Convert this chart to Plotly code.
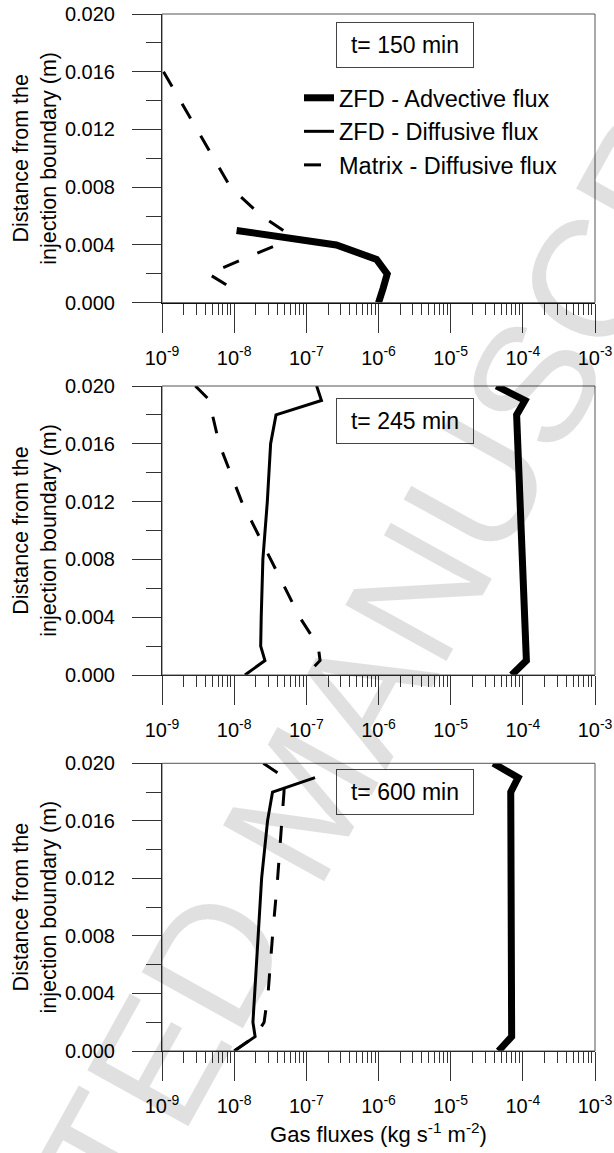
import plotly.graph_objects as go

# ---------------- data ----------------
X_TICKVALS = [1e-9, 1e-8, 1e-7, 1e-6, 1e-5, 1e-4, 1e-3]
X_TICKTEXT = ["10<sup>-9</sup>", "10<sup>-8</sup>", "10<sup>-7</sup>", "10<sup>-6</sup>",
              "10<sup>-5</sup>", "10<sup>-4</sup>", "10<sup>-3</sup>"]
Y_TICKVALS = [0.000, 0.004, 0.008, 0.012, 0.016, 0.020]
TIME_LABELS = ["t= 150 min", "t= 245 min", "t= 600 min"]
SERIES_NAMES = ["ZFD - Advective flux", "ZFD - Diffusive flux", "Matrix - Diffusive flux"]

# t = 150 min
adv150_x = [1.08e-8, 2.6e-7, 9.4e-7, 1.32e-6, 1.16e-6, 1.0e-6]
adv150_y = [0.005, 0.004, 0.003, 0.002, 0.001, 0.000]
mat150_x = [1.05e-9, 8.9e-9, 2.4e-8, 4.8e-8, 3.9e-8, 4.4e-9, 9.3e-9]
mat150_y = [0.016, 0.008, 0.006, 0.005, 0.004, 0.002, 0.001]

# t = 245 min
adv245_x = [4.3e-5, 1.07e-4, 8.2e-5, 1.12e-4, 7.0e-5]
adv245_y = [0.020, 0.019, 0.018, 0.001, 0.000]
dif245_x = [1.39e-7, 1.62e-7, 3.8e-8, 3.2e-8, 2.88e-8, 2.5e-8, 2.37e-8, 2.33e-8, 2.67e-8, 1.41e-8]
dif245_y = [0.020, 0.019, 0.018, 0.016, 0.012, 0.008, 0.004, 0.002, 0.001, 0.000]
mat245_x = [2.9e-9, 4.6e-9, 5.0e-9, 6.2e-9, 1.27e-8, 3.17e-8, 8.1e-8, 1.46e-7, 1.55e-7, 1.0e-7]
mat245_y = [0.020, 0.019, 0.018, 0.016, 0.012, 0.008, 0.004, 0.002, 0.001, 0.000]

# t = 600 min
adv600_x = [3.9e-5, 8.6e-5, 6.8e-5, 7.0e-5, 4.6e-5]
adv600_y = [0.020, 0.019, 0.018, 0.001, 0.000]
dif600_x = [1.32e-7, 3.4e-8, 2.9e-8, 2.4e-8, 2.15e-8, 1.95e-8, 1.82e-8, 1.95e-8, 1.0e-8]
dif600_y = [0.019, 0.018, 0.016, 0.012, 0.008, 0.004, 0.002, 0.001, 0.000]
mat600_x = [2.54e-8, 5.0e-8, 4.9e-8, 4.6e-8, 4.0e-8, 3.4e-8, 2.95e-8, 2.6e-8, 1.95e-8, 1.0e-8]
mat600_y = [0.020, 0.019, 0.018, 0.016, 0.012, 0.008, 0.004, 0.002, 0.001, 0.000]

# ---------------- figure ----------------
FONT = "Liberation Sans, Arial, sans-serif"
W, H = 614, 1153
ML, MR = 162, 19
PLOT_W = W - ML - MR

# panel pixel extents (top, bottom)
panel_px = [(14, 302.7), (386, 675), (763.3, 1051)]
domains = [[1 - b / H, 1 - t / H] for (t, b) in panel_px]

panels = [
    dict(adv=(adv150_x, adv150_y), dif=None, mat=(mat150_x, mat150_y)),
    dict(adv=(adv245_x, adv245_y), dif=(dif245_x, dif245_y), mat=(mat245_x, mat245_y)),
    dict(adv=(adv600_x, adv600_y), dif=(dif600_x, dif600_y), mat=(mat600_x, mat600_y)),
]

styles = {
    "adv": dict(color="black", width=7),
    "dif": dict(color="black", width=3),
    "mat": dict(color="black", width=3, dash="17px,20px"),
}
names = {"adv": SERIES_NAMES[0], "dif": SERIES_NAMES[1], "mat": SERIES_NAMES[2]}

fig = go.Figure()
for i, p in enumerate(panels):
    sfx = "" if i == 0 else str(i + 1)
    for key in ["adv", "dif", "mat"]:
        if p[key] is None:
            continue
        xs, ys = p[key]
        fig.add_trace(go.Scatter(
            x=xs, y=ys, mode="lines", line=styles[key], name=names[key],
            showlegend=(i == 1), legendgroup=key, cliponaxis=False,
            xaxis="x" + sfx, yaxis="y" + sfx, hoverinfo="skip"))

layout = dict(
    width=W, height=H,
    margin=dict(l=ML, r=MR, t=0, b=0, autoexpand=False),
    paper_bgcolor="white", plot_bgcolor="white",
    font=dict(family=FONT, color="black"),
    showlegend=True,
    legend=dict(x=(299 - ML) / PLOT_W, y=1 - 76 / H, xanchor="left", yanchor="top",
                font=dict(size=23.5, family=FONT), bgcolor="rgba(0,0,0,0)",
                tracegroupgap=0, itemwidth=30),
)

for i in range(3):
    sfx = "" if i == 0 else str(i + 1)
    xa = dict(
        type="log", range=[-9, -3], domain=[0, 1], anchor="y" + sfx,
        tickvals=X_TICKVALS, ticktext=X_TICKTEXT, automargin=False,
        ticks="outside", ticklen=29, tickwidth=1, tickcolor="#333",
        showline=True, linecolor="black", linewidth=1,
        showgrid=False, zeroline=False,
        tickfont=dict(size=20, family=FONT), ticklabelstandoff=8,
        minor=dict(ticks="outside", ticklen=11, tickwidth=1, tickcolor="#333",
                   dtick="D1", showgrid=False),
    )
    if i == 2:
        xa["title"] = dict(text="Gas fluxes (kg s<sup>-1</sup> m<sup>-2</sup>)",
                           font=dict(size=22, family=FONT), standoff=10)
    ya = dict(
        range=[0, 0.02], domain=domains[i], anchor="x" + sfx, automargin=False,
        tickvals=Y_TICKVALS, tickformat=".3f",
        ticks="outside", ticklen=29, tickwidth=1, tickcolor="#333",
        showline=True, linecolor="black", linewidth=1,
        showgrid=False, zeroline=False,
        tickfont=dict(size=20, family=FONT), ticklabelstandoff=13,
        minor=dict(ticks="outside", ticklen=15, tickwidth=1, tickcolor="#333",
                   dtick=0.002, tick0=0, showgrid=False),
        title=dict(text="Distance from the<br>injection boundary (m)",
                   font=dict(size=21.5, family=FONT), standoff=2),
    )
    layout["xaxis" + sfx] = xa
    layout["yaxis" + sfx] = ya

fig.update_layout(**layout)

# frame (top / right borders)
for i in range(3):
    sfx = "" if i == 0 else str(i + 1)
    fig.add_shape(type="rect", xref="x" + sfx + " domain", yref="y" + sfx + " domain",
                  x0=0, x1=1, y0=0, y1=1, line=dict(color="#555", width=1),
                  fillcolor="rgba(0,0,0,0)", layer="above")

# time boxes (centre pixel y of each box)
box_py = [44.5, 420.5, 791.5]
for i in range(3):
    sfx = "" if i == 0 else str(i + 1)
    t, b = panel_px[i]
    fig.add_annotation(
        text=TIME_LABELS[i], xref="x" + sfx + " domain", yref="y" + sfx + " domain",
        x=(404.5 - ML) / PLOT_W, y=(b - box_py[i]) / (b - t),
        xanchor="center", yanchor="middle",
        showarrow=False, font=dict(size=23, family=FONT),
        bordercolor="#444", borderwidth=1, width=134, height=42,
        bgcolor="white", align="center")

# watermark
fig.add_annotation(
    text="ACCEPTED MANUSCRIPT", xref="paper", yref="paper",
    x=(303 - ML) / PLOT_W, y=1 - 800 / H, xanchor="center", yanchor="middle",
    showarrow=False, textangle=-61,
    font=dict(size=168, family=FONT, color="rgba(0,0,0,0.12)"))

fig.write_html("out.html")
